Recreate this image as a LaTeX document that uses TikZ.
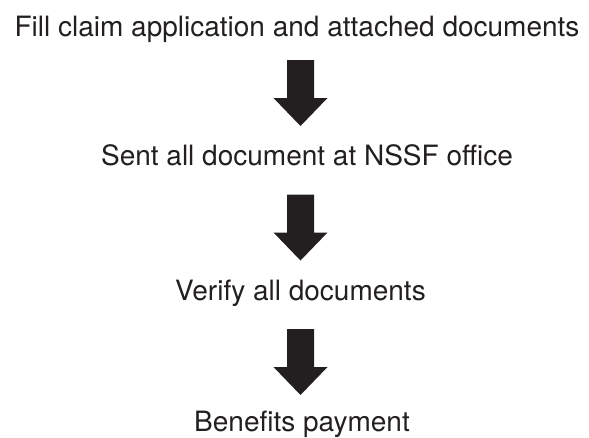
\documentclass[tikz,border=0pt]{standalone}
\usepackage{fontspec}
\setmainfont{TeX Gyre Heros}
\definecolor{ink}{HTML}{231F20}
\begin{document}
\begin{tikzpicture}[x=1pt,y=-1pt,
  steptext/.style={anchor=base,inner sep=0pt,text=ink,font=\fontsize{28}{34}\selectfont},
  blockarrow/.style={fill=ink,draw=none}]
\useasboundingbox (0,0) rectangle (589,437);
\node[steptext] (t1) at (297,36) {Fill claim application and attached documents};
\node[steptext] (t2) at (307,165) {Sent all document at NSSF office};
\node[steptext] (t3) at (300.5,300) {Verify all documents};
\node[steptext] (t4) at (302,431) {Benefits payment};
\foreach \n/\top in {a1/60,a2/194.5,a3/329}{
  \coordinate (\n) at (300.5,\top);
  \fill[blockarrow] (\n) ++(-13.5,0) -- ++(27,0) -- ++(0,38) -- ++(13.5,0)
     -- ++(-27,28) -- ++(-27,-28) -- ++(13.5,0) -- cycle;
}
\end{tikzpicture}
\end{document}
